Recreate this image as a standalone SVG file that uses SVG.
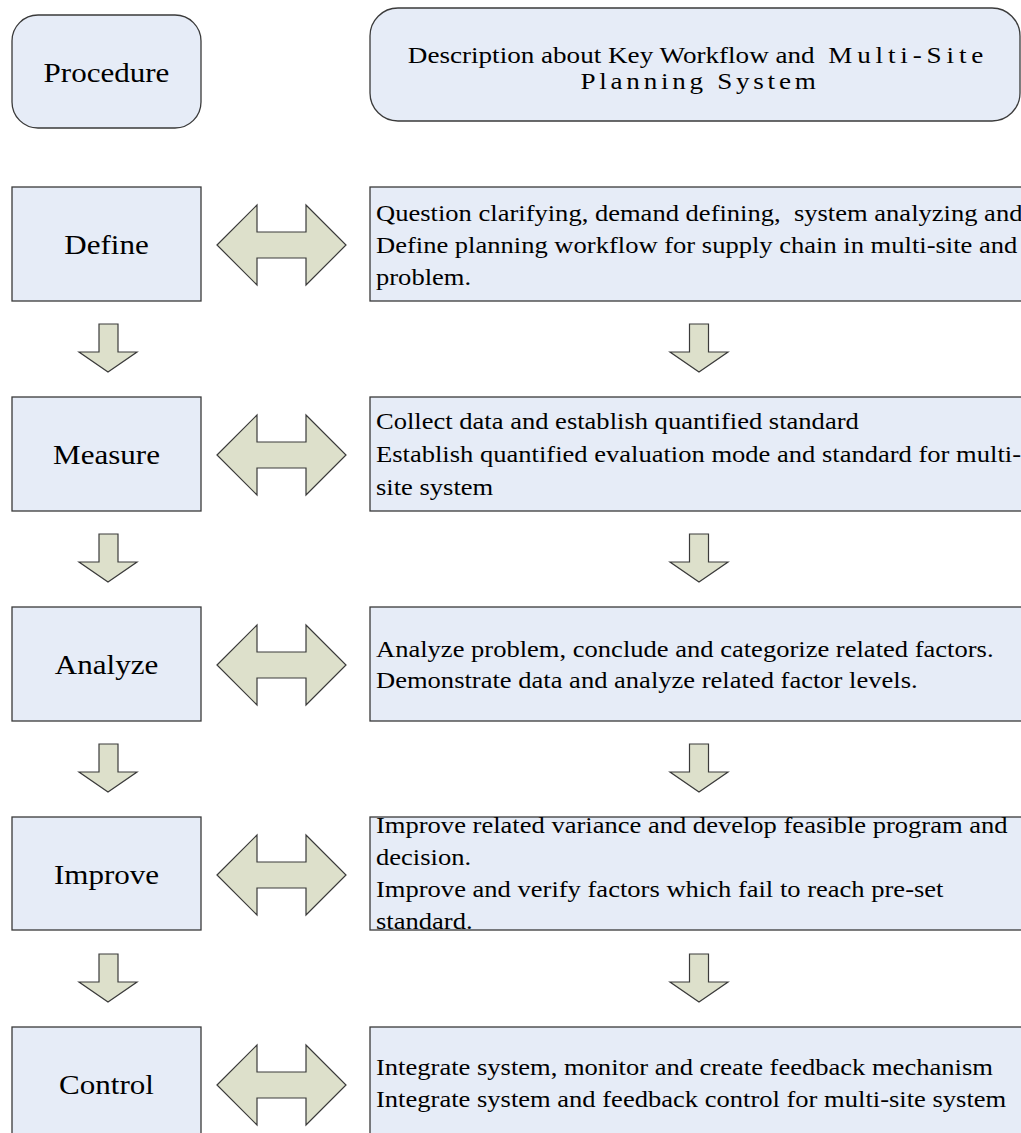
<svg xmlns="http://www.w3.org/2000/svg" width="1021" height="1133" viewBox="0 0 1021 1133">
<style>
.box{fill:#E6ECF7;stroke:#3a3a3a;stroke-width:1.3}
.arr{fill:#DDE0CB;stroke:#3a3a3a;stroke-width:1.2;stroke-linejoin:miter}
.lbl{font-family:"Liberation Serif","Times New Roman",serif;font-size:27px;fill:#000;text-anchor:middle}
.txt{font-family:"Liberation Serif","Times New Roman",serif;font-size:23.5px;fill:#000;white-space:pre}
.hdr{font-family:"Liberation Serif","Times New Roman",serif;font-size:24px;fill:#000;text-anchor:middle;white-space:pre}
</style>
<defs>
<polygon id="dbl" class="arr" points="217,58 257,18 257,45 306,45 306,18 346,58 306,98 306,71 257,71 257,98"/>
<polygon id="dnL" class="arr" points="99,23 118,23 118,51 137,51 108,71 79,51 99,51"/>
<polygon id="dnR" class="arr" points="689.5,23 708.5,23 708.5,51 728,51 699,71 670,51 689.5,51"/>
</defs>

<g id="procedure">
<rect class="box" x="12" y="15" width="189" height="113" rx="26" ry="26"/>
<text class="lbl" transform="translate(106.5,82) scale(1.15,1)">Procedure</text>
</g>
<g id="description">
<rect class="box" x="370" y="8" width="650" height="113" rx="28" ry="28"/>
<text class="hdr" xml:space="preserve" transform="translate(698,63) scale(1.13,1)">Description about Key Workflow and  <tspan letter-spacing="4.3">Multi-Site</tspan></text>
<text class="hdr" letter-spacing="3.3" transform="translate(700,89) scale(1.13,1)">Planning System</text>
</g>

<g id="define">
<rect class="box" x="12" y="187" width="189" height="114"/>
<text class="lbl" transform="translate(106.5,254) scale(1.15,1)">Define</text>
</g>
<g id="define-desc">
<rect class="box" x="370" y="187" width="670" height="114"/>
<text class="txt" xml:space="preserve" transform="translate(376,221) scale(1.13,1)">Question clarifying, demand defining,  system analyzing and</text>
<text class="txt" transform="translate(376,253) scale(1.13,1)">Define planning workflow for supply chain in multi-site and</text>
<text class="txt" transform="translate(376,285) scale(1.13,1)">problem.</text>
</g>

<g id="measure">
<rect class="box" x="12" y="397" width="189" height="114"/>
<text class="lbl" transform="translate(106.5,464) scale(1.15,1)">Measure</text>
</g>
<g id="measure-desc">
<rect class="box" x="370" y="397" width="670" height="114"/>
<text class="txt" transform="translate(376,429) scale(1.13,1)">Collect data and establish quantified standard</text>
<text class="txt" transform="translate(376,462) scale(1.13,1)">Establish quantified evaluation mode and standard for multi-</text>
<text class="txt" transform="translate(376,495) scale(1.13,1)">site system</text>
</g>

<g id="analyze">
<rect class="box" x="12" y="607" width="189" height="114"/>
<text class="lbl" transform="translate(106.5,674) scale(1.15,1)">Analyze</text>
</g>
<g id="analyze-desc">
<rect class="box" x="370" y="607" width="670" height="114"/>
<text class="txt" transform="translate(376,657) scale(1.13,1)">Analyze problem, conclude and categorize related factors.</text>
<text class="txt" transform="translate(376,688) scale(1.13,1)">Demonstrate data and analyze related factor levels.</text>
</g>

<g id="improve">
<rect class="box" x="12" y="817" width="189" height="113"/>
<text class="lbl" transform="translate(106.5,884) scale(1.15,1)">Improve</text>
</g>
<g id="improve-desc">
<rect class="box" x="370" y="817" width="670" height="113"/>
<text class="txt" transform="translate(376,833) scale(1.13,1)">Improve related variance and develop feasible program and</text>
<text class="txt" transform="translate(376,865) scale(1.13,1)">decision.</text>
<text class="txt" transform="translate(376,897) scale(1.13,1)">Improve and verify factors which fail to reach pre-set</text>
<text class="txt" transform="translate(376,929) scale(1.13,1)">standard.</text>
</g>

<g id="control">
<rect class="box" x="12" y="1027" width="189" height="120"/>
<text class="lbl" transform="translate(106.5,1094) scale(1.15,1)">Control</text>
</g>
<g id="control-desc">
<rect class="box" x="370" y="1027" width="670" height="120"/>
<text class="txt" transform="translate(376,1075) scale(1.13,1)">Integrate system, monitor and create feedback mechanism</text>
<text class="txt" transform="translate(376,1107) scale(1.13,1)">Integrate system and feedback control for multi-site system</text>
</g>

<g id="connectors">
<use href="#dbl" y="187"/>
<use href="#dbl" y="397"/>
<use href="#dbl" y="607"/>
<use href="#dbl" y="817"/>
<use href="#dbl" y="1027"/>
<use href="#dnL" y="301"/>
<use href="#dnL" y="511"/>
<use href="#dnL" y="721"/>
<use href="#dnL" y="931"/>
<use href="#dnR" y="301"/>
<use href="#dnR" y="511"/>
<use href="#dnR" y="721"/>
<use href="#dnR" y="931"/>
</g>
</svg>
